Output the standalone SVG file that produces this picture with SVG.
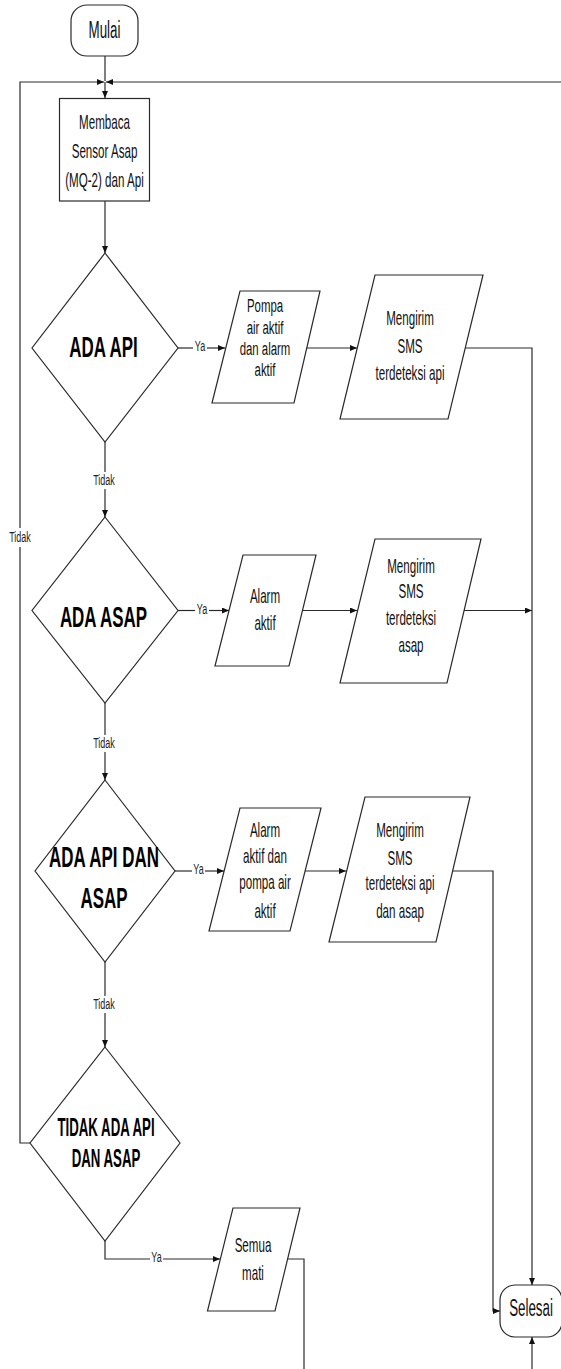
<svg xmlns="http://www.w3.org/2000/svg" width="561" height="1369" viewBox="0 0 561 1369">
<style>
.shape{fill:#fff;stroke:#2a2a2a;stroke-width:1.2}
.line{fill:none;stroke:#2a2a2a;stroke-width:1.2}
.t{font-family:"Liberation Sans",Arial,sans-serif;font-size:20px;fill:#111;text-anchor:middle}
.ts{font-family:"Liberation Sans",Arial,sans-serif;font-size:19px;fill:#111;text-anchor:middle}
.term{font-family:"Liberation Sans",Arial,sans-serif;font-size:23px;fill:#111;text-anchor:middle}
.b{font-family:"Liberation Sans",Arial,sans-serif;font-size:30px;font-weight:bold;fill:#000;text-anchor:middle}
.b2{font-family:"Liberation Sans",Arial,sans-serif;font-size:25px;font-weight:bold;fill:#000;text-anchor:middle}
.lbl{font-family:"Liberation Sans",Arial,sans-serif;font-size:15px;fill:#222;text-anchor:middle}
</style>
<defs>
<marker id="arr" markerUnits="userSpaceOnUse" markerWidth="8" markerHeight="7" refX="7" refY="3" orient="auto">
<path d="M0,0 L7,3 L0,6 z" fill="#111"/>
</marker>
</defs>

<g id="connectors">
<path class="line" d="M105,56 V81"/>
<path class="line" d="M105,82 V98" marker-end="url(#arr)"/>
<path class="line" d="M30,1143 H20 V547"/>
<path class="line" d="M20,528 V82 H104" marker-end="url(#arr)"/>
<path class="line" d="M561,82 H106" marker-end="url(#arr)"/>
<path class="line" d="M105,201 V253" marker-end="url(#arr)"/>
<path class="line" d="M105,442 V472"/>
<path class="line" d="M105,489 V517" marker-end="url(#arr)"/>
<path class="line" d="M105,703 V735"/>
<path class="line" d="M105,752 V780" marker-end="url(#arr)"/>
<path class="line" d="M105,962 V996"/>
<path class="line" d="M105,1013 V1047" marker-end="url(#arr)"/>
<path class="line" d="M178,348 H193"/>
<path class="line" d="M207,348 H225" marker-end="url(#arr)"/>
<path class="line" d="M307,348 H357" marker-end="url(#arr)"/>
<path class="line" d="M465,348 H532 V1285" marker-end="url(#arr)"/>
<path class="line" d="M178,610.5 H195"/>
<path class="line" d="M209,610.5 H229" marker-end="url(#arr)"/>
<path class="line" d="M302,610.5 H357" marker-end="url(#arr)"/>
<path class="line" d="M464,610.5 H532" marker-end="url(#arr)"/>
<path class="line" d="M175,871 H192"/>
<path class="line" d="M205,871 H224" marker-end="url(#arr)"/>
<path class="line" d="M305,871 H346" marker-end="url(#arr)"/>
<path class="line" d="M452.6,871 H493 V1311 H500" marker-end="url(#arr)"/>
<path class="line" d="M105,1241 V1259 H150"/>
<path class="line" d="M163,1259 H220" marker-end="url(#arr)"/>
<path class="line" d="M287,1259 H304 V1369"/>
<path class="line" d="M532,1369 V1337" marker-end="url(#arr)"/>
<text class="lbl" transform="translate(200,0) scale(0.6,1)" x="0" y="351">Ya</text>
<text class="lbl" transform="translate(202,0) scale(0.6,1)" x="0" y="614">Ya</text>
<text class="lbl" transform="translate(198.5,0) scale(0.6,1)" x="0" y="874">Ya</text>
<text class="lbl" transform="translate(156.5,0) scale(0.6,1)" x="0" y="1262">Ya</text>
<text class="lbl" transform="translate(104,0) scale(0.6,1)" x="0" y="485">Tidak</text>
<text class="lbl" transform="translate(104,0) scale(0.6,1)" x="0" y="748">Tidak</text>
<text class="lbl" transform="translate(104,0) scale(0.6,1)" x="0" y="1009">Tidak</text>
<text class="lbl" transform="translate(20,0) scale(0.6,1)" x="0" y="542">Tidak</text>
</g>

<g id="mulai">
<rect class="shape" x="71" y="5" width="67" height="51" rx="16" ry="16"/>
<text class="term" transform="translate(104.5,0) scale(0.58,1)" x="0" y="38.5">Mulai</text>
</g>

<g id="membaca">
<rect class="shape" x="59.5" y="98.5" width="90" height="102.5"/>
<text class="t" transform="translate(104.5,0) scale(0.58,1)"><tspan x="0" y="129">Membaca</tspan><tspan x="0" y="158">Sensor Asap</tspan><tspan x="0" y="187">(MQ-2) dan Api</tspan></text>
</g>

<g id="ada-api">
<polygon class="shape" points="105,253 178,348 105,442 32,348"/>
<text class="b" transform="translate(103.5,0) scale(0.565,1)" x="0" y="357">ADA API</text>
</g>

<g id="pompa-alarm">
<polygon class="shape" points="240,291 320,291 294,403 212,403"/>
<text class="ts" transform="translate(265,0) scale(0.6,1)"><tspan x="0" y="312">Pompa</tspan><tspan x="0" y="334">air aktif</tspan><tspan x="0" y="355">dan alarm</tspan><tspan x="0" y="376">aktif</tspan></text>
</g>

<g id="sms-api">
<polygon class="shape" points="375,275 483,275 448,419 340,419"/>
<text class="t" transform="translate(410,0) scale(0.58,1)"><tspan x="0" y="325">Mengirim</tspan><tspan x="0" y="353">SMS</tspan><tspan x="0" y="380">terdeteksi api</tspan></text>
</g>

<g id="ada-asap">
<polygon class="shape" points="105,517 178,610.5 105,703 32,610.5"/>
<text class="b" transform="translate(103.5,0) scale(0.565,1)" x="0" y="627">ADA ASAP</text>
</g>

<g id="alarm-aktif">
<polygon class="shape" points="243,555 316,555 289,666 215,666"/>
<text class="t" transform="translate(265,0) scale(0.58,1)"><tspan x="0" y="603">Alarm</tspan><tspan x="0" y="630">aktif</tspan></text>
</g>

<g id="sms-asap">
<polygon class="shape" points="375,539 481,539 447,683 340,683"/>
<text class="t" transform="translate(411,0) scale(0.58,1)"><tspan x="0" y="573">Mengirim</tspan><tspan x="0" y="598">SMS</tspan><tspan x="0" y="625">terdeteksi</tspan><tspan x="0" y="652">asap</tspan></text>
</g>

<g id="ada-api-dan-asap">
<polygon class="shape" points="105,780 175,871 105,962 35,871"/>
<text class="b" transform="translate(104,0) scale(0.565,1)"><tspan x="0" y="867">ADA API DAN</tspan><tspan x="0" y="908">ASAP</tspan></text>
</g>

<g id="alarm-pompa">
<polygon class="shape" points="240,808 321,808 290,931 209,931"/>
<text class="t" transform="translate(265,0) scale(0.58,1)"><tspan x="0" y="837">Alarm</tspan><tspan x="0" y="863">aktif dan</tspan><tspan x="0" y="889">pompa air</tspan><tspan x="0" y="918">aktif</tspan></text>
</g>

<g id="sms-api-asap">
<polygon class="shape" points="365,797 470,797 436,942 329,942"/>
<text class="t" transform="translate(400,0) scale(0.58,1)"><tspan x="0" y="837">Mengirim</tspan><tspan x="0" y="865">SMS</tspan><tspan x="0" y="890">terdeteksi api</tspan><tspan x="0" y="918">dan asap</tspan></text>
</g>

<g id="tidak-ada">
<polygon class="shape" points="105,1047 180,1143 105,1241 30,1143"/>
<text class="b2" transform="translate(106,0) scale(0.53,1)"><tspan x="0" y="1136">TIDAK ADA API</tspan><tspan x="0" y="1167">DAN ASAP</tspan></text>
</g>

<g id="semua-mati">
<polygon class="shape" points="233,1208 300,1208 275,1311 207.5,1311"/>
<text class="t" transform="translate(253,0) scale(0.58,1)"><tspan x="0" y="1252">Semua</tspan><tspan x="0" y="1280">mati</tspan></text>
</g>

<g id="selesai">
<rect class="shape" x="500" y="1285" width="62" height="52" rx="15" ry="15"/>
<text class="term" transform="translate(531,0) scale(0.58,1)" x="0" y="1316">Selesai</text>
</g>
</svg>
